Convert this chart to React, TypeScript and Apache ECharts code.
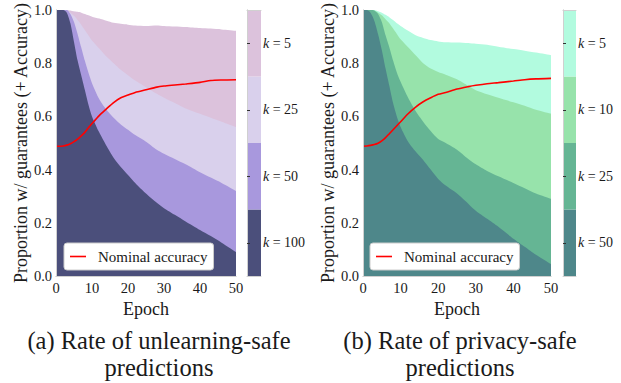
import React, { useEffect, useRef } from 'react';
import * as echarts from 'echarts';

// ---------- data ----------
const epochs = [0, 1, 2, 3, 4, 5, 6, 7, 8, 9, 10, 12, 14, 16, 18, 20, 22, 25, 28, 30, 33, 36, 40, 43, 46, 50];

// (a) unlearning-safe
const unlK5 = [1, 1, 1, 1, 0.998, 0.995, 0.993, 0.99, 0.985, 0.98, 0.975, 0.968, 0.96, 0.952, 0.948, 0.945, 0.942, 0.94, 0.942, 0.94, 0.938, 0.936, 0.932, 0.93, 0.927, 0.922];
const unlK25 = [1, 1, 1, 1, 0.99, 0.978, 0.962, 0.945, 0.925, 0.905, 0.885, 0.855, 0.825, 0.8, 0.775, 0.755, 0.735, 0.71, 0.685, 0.67, 0.65, 0.63, 0.61, 0.595, 0.58, 0.56];
const unlK50 = [1, 1, 1, 1, 0.985, 0.955, 0.91, 0.86, 0.81, 0.765, 0.725, 0.665, 0.625, 0.595, 0.57, 0.55, 0.53, 0.505, 0.475, 0.46, 0.44, 0.42, 0.39, 0.37, 0.35, 0.32];
const unlK100 = [1, 1, 1, 0.99, 0.95, 0.88, 0.81, 0.755, 0.7, 0.645, 0.6, 0.54, 0.49, 0.445, 0.41, 0.38, 0.35, 0.31, 0.275, 0.255, 0.23, 0.205, 0.173, 0.15, 0.125, 0.09];
const unlAcc = [0.488, 0.488, 0.489, 0.492, 0.497, 0.505, 0.515, 0.527, 0.54, 0.557, 0.573, 0.603, 0.628, 0.652, 0.67, 0.68, 0.69, 0.7, 0.71, 0.714, 0.718, 0.722, 0.728, 0.735, 0.737, 0.738];

// (b) privacy-safe
const prvK5 = [1, 1, 1, 1, 0.995, 0.99, 0.982, 0.973, 0.962, 0.95, 0.94, 0.922, 0.905, 0.895, 0.887, 0.882, 0.879, 0.878, 0.876, 0.873, 0.869, 0.862, 0.853, 0.847, 0.84, 0.83];
const prvK10 = [1, 1, 1, 0.998, 0.99, 0.98, 0.965, 0.95, 0.93, 0.91, 0.89, 0.86, 0.83, 0.8, 0.78, 0.767, 0.757, 0.74, 0.715, 0.698, 0.683, 0.67, 0.653, 0.64, 0.625, 0.61];
const prvK25 = [1, 1, 1, 0.998, 0.985, 0.955, 0.905, 0.86, 0.81, 0.765, 0.73, 0.67, 0.62, 0.58, 0.545, 0.515, 0.5, 0.475, 0.44, 0.42, 0.395, 0.375, 0.35, 0.33, 0.31, 0.29];
const prvK50 = [1, 1, 0.99, 0.96, 0.91, 0.85, 0.78, 0.715, 0.65, 0.6, 0.56, 0.505, 0.468, 0.436, 0.4, 0.365, 0.34, 0.31, 0.272, 0.245, 0.215, 0.185, 0.14, 0.11, 0.08, 0.045];
const prvAcc = [0.488, 0.489, 0.491, 0.494, 0.499, 0.508, 0.52, 0.535, 0.55, 0.565, 0.58, 0.61, 0.635, 0.655, 0.67, 0.683, 0.69, 0.703, 0.712, 0.717, 0.723, 0.727, 0.733, 0.738, 0.741, 0.743];

const unlKs = ['5', '25', '50', '100'];
const prvKs = ['5', '10', '25', '50'];
const unlColors = ['#dcc2dc', '#d9d0ec', '#a898dd', '#4b4f7b'];
const prvColors = ['#b2fbdf', '#97e3ab', '#65b594', '#4e878a'];

const xTicks = { min: 0, max: 50, interval: 10 };
const yTicks = { min: 0, max: 1, interval: 0.2 };

const accName = 'Nominal accuracy';
const yName = 'Proportion w/ guarantees (+ Accuracy)';
const xName = 'Epoch';
const captionA = '(a) Rate of unlearning-safe\npredictions';
const captionB = '(b) Rate of privacy-safe\npredictions';

// ---------- styling ----------
const FONT = 'Liberation Serif, Times New Roman, serif';
const TXT = '#1a1a1a';
const FRAME = '#d0d0d0';

function pairs(vals: number[]) {
  return epochs.map((e, i) => [e, vals[i]]);
}

function frameAxis(extra: any) {
  return {
    axisLine: { show: true, lineStyle: { color: FRAME, width: 1 } },
    axisTick: { show: false },
    axisLabel: { show: false },
    splitLine: { show: false },
    z: 5,
    ...extra,
  };
}

export default function App() {
  const ref = useRef<HTMLDivElement>(null);

  useEffect(() => {
    if (!ref.current) return;
    const chart = echarts.init(ref.current, undefined, { renderer: 'svg' });

    const grids = [
      { left: 56, top: 10, width: 180, height: 266 },
      { left: 247, top: 10, width: 14, height: 266 },
      { left: 363, top: 10, width: 188, height: 266 },
      { left: 563, top: 10, width: 13, height: 266 },
    ];

    const xAxes: any[] = [];
    const yAxes: any[] = [];
    const series: any[] = [];

    const addMain = (gi: number, layers: number[][], colors: string[], acc: number[], nameGap: number) => {
      const xi = xAxes.length;
      xAxes.push(frameAxis({
        type: 'value', gridIndex: gi, position: 'bottom', ...xTicks,
        axisLabel: { show: true, color: TXT, fontFamily: FONT, fontSize: 14.5, margin: 4 },
        name: xName, nameLocation: 'middle', nameGap: 9,
        nameTextStyle: { color: TXT, fontFamily: FONT, fontSize: 18, verticalAlign: 'top' },
      }));
      xAxes.push(frameAxis({ type: 'value', gridIndex: gi, position: 'top', ...xTicks }));
      const yi = yAxes.length;
      yAxes.push(frameAxis({
        type: 'value', gridIndex: gi, position: 'left', ...yTicks,
        axisLabel: { show: true, color: TXT, fontFamily: FONT, fontSize: 14.5, margin: 4, formatter: (v: number) => v.toFixed(1) },
        name: yName, nameLocation: 'middle', nameGap,
        nameTextStyle: { color: TXT, fontFamily: FONT, fontSize: 18 },
      }));
      yAxes.push(frameAxis({ type: 'value', gridIndex: gi, position: 'right', ...yTicks }));
      layers.forEach((vals, i) => {
        series.push({
          type: 'line', xAxisIndex: xi, yAxisIndex: yi, data: pairs(vals),
          symbol: 'none', smooth: 0.25, z: 2, silent: true,
          lineStyle: { width: 0, color: colors[i] }, itemStyle: { color: colors[i] },
          areaStyle: { color: colors[i], opacity: 1 },
        });
      });
      series.push({
        type: 'line', name: accName, xAxisIndex: xi, yAxisIndex: yi, data: pairs(acc),
        symbol: 'none', smooth: 0.25, z: 3,
        lineStyle: { width: 1.6, color: '#ff0000' }, itemStyle: { color: '#ff0000' },
      });
    };

    const addBar = (gi: number, ks: string[], colors: string[]) => {
      const cats = ks.slice().reverse();
      const cols = colors.slice().reverse();
      const xi = xAxes.length;
      xAxes.push(frameAxis({ type: 'value', gridIndex: gi, position: 'bottom', min: 0, max: 1 }));
      xAxes.push(frameAxis({ type: 'value', gridIndex: gi, position: 'top', min: 0, max: 1 }));
      const yi = yAxes.length;
      yAxes.push(frameAxis({
        type: 'category', gridIndex: gi, position: 'right', data: cats,
        axisTick: { show: true, alignWithLabel: true, length: 3, lineStyle: { color: '#333', width: 1 } },
        axisLabel: {
          show: true, margin: 2, color: TXT, fontFamily: FONT, fontSize: 14,
          formatter: (v: string) => `{i|k} = ${v}`,
          rich: { i: { fontStyle: 'italic', fontFamily: FONT, fontSize: 14, color: TXT } },
        },
      }));
      yAxes.push(frameAxis({ type: 'value', gridIndex: gi, position: 'left', min: 0, max: 1 }));
      series.push({
        type: 'bar', xAxisIndex: xi, yAxisIndex: yi, barWidth: '100%', barCategoryGap: '0%', silent: true, z: 2,
        data: cats.map((_, i) => ({ value: 1, itemStyle: { color: cols[i] } })),
      });
    };

    addMain(0, [unlK5, unlK25, unlK50, unlK100], unlColors, unlAcc, 18);
    addBar(1, unlKs, unlColors);
    addMain(2, [prvK5, prvK10, prvK25, prvK50], prvColors, prvAcc, 21);
    addBar(3, prvKs, prvColors);

    const legendBase = {
      data: [{ name: accName, icon: 'rect' }],
      orient: 'horizontal',
      top: 243,
      padding: [6, 6, 6, 6],
      itemWidth: 16,
      itemHeight: 1.6,
      backgroundColor: '#ffffff',
      borderColor: '#cccccc',
      borderWidth: 1,
      borderRadius: 3,
      selectedMode: false,
      textStyle: { color: TXT, fontFamily: FONT, fontSize: 15, padding: [0, 0, 0, 7] },
    };

    chart.setOption({
      animation: false,
      backgroundColor: '#ffffff',
      grid: grids,
      xAxis: xAxes,
      yAxis: yAxes,
      series,
      legend: [
        { ...legendBase, left: 64 },
        { ...legendBase, left: 370 },
      ],
      graphic: [
        {
          type: 'text', x: 159, y: 327,
          style: { text: captionA, textAlign: 'center', textVerticalAlign: 'top', fontFamily: FONT, fontSize: 24.5, lineHeight: 27, fill: TXT },
        },
        {
          type: 'text', x: 460, y: 327,
          style: { text: captionB, textAlign: 'center', textVerticalAlign: 'top', fontFamily: FONT, fontSize: 24.5, lineHeight: 27, fill: TXT },
        },
      ],
    });

    return () => chart.dispose();
  }, []);

  return (
    <div
      ref={ref}
      style={{ position: 'fixed', left: 0, top: 0, width: 621, height: 383, background: '#fff' }}
    />
  );
}
